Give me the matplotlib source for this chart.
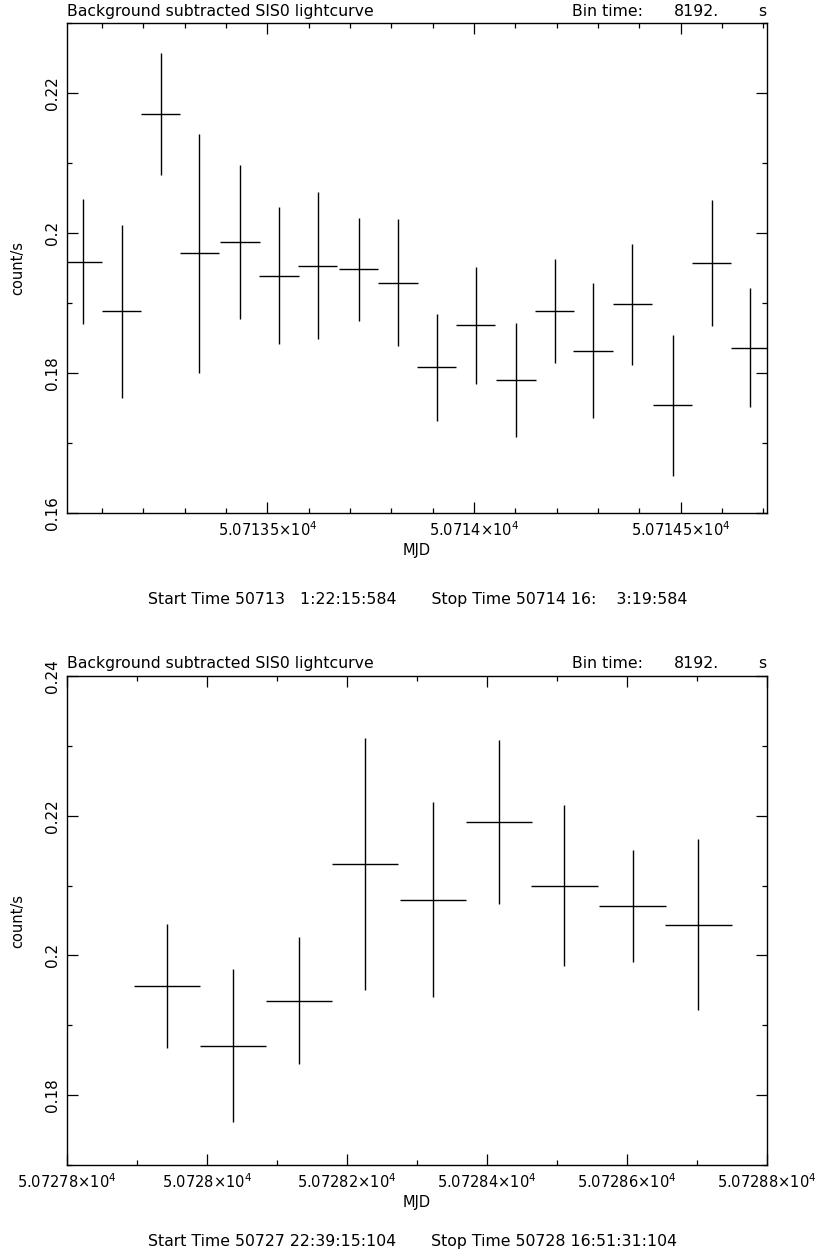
import matplotlib
matplotlib.use("Agg")
import matplotlib.pyplot as plt
from matplotlib.ticker import FixedLocator, MultipleLocator

plt.rcParams['font.family'] = ['DejaVu Sans']
plt.rcParams['mathtext.fontset'] = 'dejavusans'

# ---------------- data ----------------
half_bin = 8192.0 / 2 / 86400  # days

top_mjd = [50713.0532, 50713.1476, 50713.2419, 50713.3354, 50713.4338, 50713.5282,
           50713.6218, 50713.7210, 50713.8161, 50713.9097, 50714.0041, 50714.1016,
           50714.1953, 50714.2879, 50714.3830, 50714.4808, 50714.5751, 50714.6685]
top_rate = [0.1959, 0.1888, 0.2170, 0.1971, 0.1987, 0.1939,
            0.1953, 0.1948, 0.1929, 0.1808, 0.1868, 0.1790,
            0.1889, 0.1832, 0.1898, 0.1754, 0.1957, 0.1836]
top_err = [0.0089, 0.0123, 0.0087, 0.0171, 0.0110, 0.0098,
           0.0105, 0.0074, 0.0091, 0.0076, 0.0083, 0.0082,
           0.0074, 0.0096, 0.0086, 0.0101, 0.0090, 0.0085]

bot_mjd = [50727.9433, 50728.0371, 50728.1314, 50728.2257, 50728.3233,
           50728.4171, 50728.5105, 50728.6081, 50728.7019]
bot_rate = [0.1956, 0.1871, 0.1935, 0.2131, 0.2080, 0.2191, 0.2100, 0.2071, 0.2044]
bot_err = [0.0089, 0.0110, 0.0091, 0.0180, 0.0140, 0.0118, 0.0115, 0.0080, 0.0122]

top_xticks = [50713.5, 50714.0, 50714.5]
top_xticklabels = ["5.07135", "5.0714", "5.07145"]
top_yticks = [0.16, 0.18, 0.20, 0.22]
top_yticklabels = ["0.16", "0.18", "0.2", "0.22"]

bot_xticks = [50727.8, 50728.0, 50728.2, 50728.4, 50728.6, 50728.8]
bot_xticklabels = ["5.07278", "5.0728", "5.07282", "5.07284", "5.07286", "5.07288"]
bot_yticks = [0.18, 0.20, 0.22, 0.24]
bot_yticklabels = ["0.18", "0.2", "0.22", "0.24"]

title = "Background subtracted SIS0 lightcurve"
top_times = "Start Time 50713   1:22:15:584       Stop Time 50714 16:    3:19:584"
bot_times = "Start Time 50727 22:39:15:104       Stop Time 50728 16:51:31:104"

# ---------------- figure ----------------
W, H = 819, 1260
fig = plt.figure(figsize=(W / 100, H / 100), dpi=100)
FS = 10.5
TFS = 11.3


def fx(px):
    return px / W


def fy(py):
    return 1 - py / H


def panel(rect, x, y, e, xlim, ylim, xticks, xlabels, yticks, ylabels,
          xminor, yminor):
    ax = fig.add_axes(rect)
    ax.errorbar(x, y, xerr=half_bin, yerr=e, fmt='none', ecolor='black',
                elinewidth=1.0, capsize=0)
    ax.set_xlim(*xlim)
    ax.set_ylim(*ylim)
    ax.xaxis.set_major_locator(FixedLocator(xticks))
    ax.set_xticklabels([r"%s$\times$10$^{4}$" % s for s in xlabels], fontsize=FS)
    ax.xaxis.set_minor_locator(MultipleLocator(xminor))
    ax.yaxis.set_major_locator(FixedLocator(yticks))
    ax.set_yticklabels(ylabels, fontsize=FS + 0.5, rotation=90, va='center')
    ax.yaxis.set_minor_locator(MultipleLocator(yminor))
    ax.tick_params(which='both', direction='in', top=True, right=True,
                   width=0.9, color='black')
    ax.tick_params(which='major', length=8, pad=5)
    ax.tick_params(which='minor', length=3.5)
    for s in ax.spines.values():
        s.set_linewidth(1.0)
    ax.set_xlabel("MJD", fontsize=FS, labelpad=3)
    ax.set_ylabel("count/s", fontsize=FS, labelpad=14)
    return ax


ax1 = panel([fx(67), fy(513), fx(700), 490 / H], top_mjd, top_rate, top_err,
            (50713.0152, 50714.709), (0.16, 0.23), top_xticks, top_xticklabels,
            top_yticks, top_yticklabels, 0.1, 0.01)
ax2 = panel([fx(67), fy(1165), fx(700), 489 / H], bot_mjd, bot_rate, bot_err,
            (50727.8, 50728.8), (0.17, 0.24), bot_xticks, bot_xticklabels,
            bot_yticks, bot_yticklabels, 0.1, 0.01)

for base in (16, 668):
    fig.text(fx(67), fy(base), title, fontsize=TFS, va='baseline', ha='left')
    fig.text(fx(572), fy(base), "Bin time:", fontsize=TFS, va='baseline', ha='left')
    fig.text(fx(674), fy(base), "8192.", fontsize=TFS, va='baseline', ha='left')
    fig.text(fx(758), fy(base), "s", fontsize=TFS, va='baseline', ha='left')

fig.text(fx(148), fy(604), top_times, fontsize=TFS, va='baseline', ha='left')
fig.text(fx(148), fy(1246), bot_times, fontsize=TFS, va='baseline', ha='left')

fig.savefig("out.png", dpi=100)
